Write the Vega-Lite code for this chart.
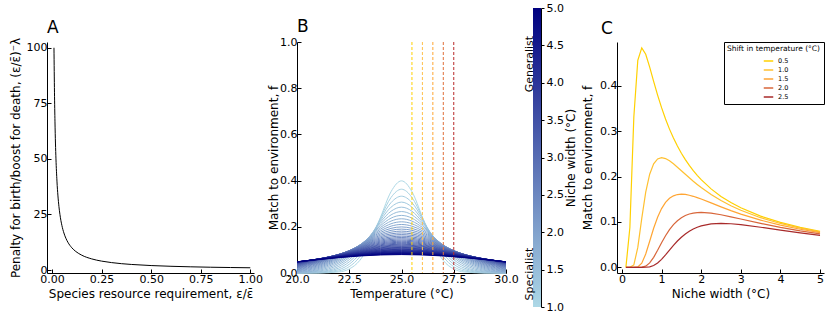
{
  "$schema": "https://vega.github.io/schema/vega-lite/v6.json",
  "padding": {"left": 9, "top": 2, "right": 0, "bottom": 0},
  "spacing": 4,
  "datasets": {
    "pa": [
      {"x": 0.01, "y": 100}, {"x": 0.0125, "y": 80}, {"x": 0.015, "y": 66.667}, {"x": 0.0175, "y": 57.143},
      {"x": 0.02, "y": 50}, {"x": 0.025, "y": 40}, {"x": 0.03, "y": 33.333}, {"x": 0.035, "y": 28.571},
      {"x": 0.04, "y": 25}, {"x": 0.05, "y": 20}, {"x": 0.06, "y": 16.667}, {"x": 0.07, "y": 14.286},
      {"x": 0.08, "y": 12.5}, {"x": 0.1, "y": 10}, {"x": 0.12, "y": 8.333}, {"x": 0.15, "y": 6.667},
      {"x": 0.2, "y": 5}, {"x": 0.25, "y": 4}, {"x": 0.3, "y": 3.333}, {"x": 0.4, "y": 2.5},
      {"x": 0.5, "y": 2}, {"x": 0.6, "y": 1.667}, {"x": 0.7, "y": 1.429}, {"x": 0.8, "y": 1.25},
      {"x": 0.9, "y": 1.111}, {"x": 1.0, "y": 1}
    ],
    "pb": [
      {"s": 1.0, "T": [20,21,22,22.5,23,23.5,24,24.5,25,25.5,26,26.5,27,27.5,28,29,30], "f": [0,0.0001,0.0044,0.0175,0.054,0.1295,0.242,0.3521,0.3989,0.3521,0.242,0.1295,0.054,0.0175,0.0044,0.0001,0]},
      {"s": 1.1, "T": [20,21,22,22.5,23,23.5,24,24.5,25,25.5,26,26.5,27,27.5,28,29,30], "f": [0,0.0005,0.0088,0.0274,0.0695,0.1431,0.2399,0.3271,0.3627,0.3271,0.2399,0.1431,0.0695,0.0274,0.0088,0.0005,0]},
      {"s": 1.2, "T": [20,21,22,22.5,23,23.5,24,24.5,25,25.5,26,26.5,27,27.5,28,29,30], "f": [0.0001,0.0013,0.0146,0.038,0.0829,0.1522,0.2349,0.3048,0.3325,0.3048,0.2349,0.1522,0.0829,0.038,0.0146,0.0013,0.0001]},
      {"s": 1.3, "T": [20,21,22,22.5,23,23.5,24,24.5,25,25.5,26,26.5,27,27.5,28,29,30], "f": [0.0002,0.0027,0.0214,0.0483,0.094,0.1577,0.2283,0.285,0.3069,0.285,0.2283,0.1577,0.094,0.0483,0.0214,0.0027,0.0002]},
      {"s": 1.4, "T": [20,21,22,22.5,23,23.5,24,24.5,25,25.5,26,26.5,27,27.5,28,29,30], "f": [0.0005,0.0048,0.0287,0.0579,0.1027,0.1605,0.2208,0.2674,0.285,0.2674,0.2208,0.1605,0.1027,0.0579,0.0287,0.0048,0.0005]},
      {"s": 1.5, "T": [20,21,22,22.5,23,23.5,24,24.5,25,25.5,26,26.5,27,27.5,28,29,30], "f": [0.001,0.0076,0.036,0.0663,0.1093,0.1613,0.213,0.2516,0.266,0.2516,0.213,0.1613,0.1093,0.0663,0.036,0.0076,0.001]},
      {"s": 1.6, "T": [20,21,22,22.5,23,23.5,24,24.5,25,25.5,26,26.5,27,27.5,28,29,30], "f": [0.0019,0.011,0.043,0.0736,0.1142,0.1607,0.2051,0.2375,0.2493,0.2375,0.2051,0.1607,0.1142,0.0736,0.043,0.011,0.0019]},
      {"s": 1.7, "T": [20,21,22,22.5,23,23.5,24,24.5,25,25.5,26,26.5,27,27.5,28,29,30], "f": [0.0031,0.0147,0.0495,0.0796,0.1175,0.159,0.1974,0.2247,0.2347,0.2247,0.1974,0.159,0.1175,0.0796,0.0495,0.0147,0.0031]},
      {"s": 1.8, "T": [20,21,22,22.5,23,23.5,24,24.5,25,25.5,26,26.5,27,27.5,28,29,30], "f": [0.0047,0.0188,0.0553,0.0845,0.1196,0.1566,0.1899,0.2132,0.2216,0.2132,0.1899,0.1566,0.1196,0.0845,0.0553,0.0188,0.0047]},
      {"s": 1.9, "T": [20,21,22,22.5,23,23.5,24,24.5,25,25.5,26,26.5,27,27.5,28,29,30], "f": [0.0066,0.0229,0.0604,0.0884,0.1207,0.1538,0.1828,0.2028,0.21,0.2028,0.1828,0.1538,0.1207,0.0884,0.0604,0.0229,0.0066]},
      {"s": 2.0, "T": [20,21,22,22.5,23,23.5,24,24.5,25,25.5,26,26.5,27,27.5,28,29,30], "f": [0.0088,0.027,0.0648,0.0913,0.121,0.1506,0.176,0.1933,0.1995,0.1933,0.176,0.1506,0.121,0.0913,0.0648,0.027,0.0088]},
      {"s": 2.1, "T": [20,21,22,22.5,23,23.5,24,24.5,25,25.5,26,26.5,27,27.5,28,29,30], "f": [0.0112,0.031,0.0685,0.0935,0.1207,0.1472,0.1696,0.1847,0.19,0.1847,0.1696,0.1472,0.1207,0.0935,0.0685,0.031,0.0112]},
      {"s": 2.2, "T": [20,21,22,22.5,23,23.5,24,24.5,25,25.5,26,26.5,27,27.5,28,29,30], "f": [0.0137,0.0347,0.0716,0.0951,0.12,0.1437,0.1635,0.1767,0.1813,0.1767,0.1635,0.1437,0.12,0.0951,0.0716,0.0347,0.0137]},
      {"s": 2.3, "T": [20,21,22,22.5,23,23.5,24,24.5,25,25.5,26,26.5,27,27.5,28,29,30], "f": [0.0163,0.0382,0.0741,0.0961,0.1188,0.1402,0.1578,0.1694,0.1735,0.1694,0.1578,0.1402,0.1188,0.0961,0.0741,0.0382,0.0163]},
      {"s": 2.4, "T": [20,21,22,22.5,23,23.5,24,24.5,25,25.5,26,26.5,27,27.5,28,29,30], "f": [0.019,0.0415,0.0761,0.0966,0.1175,0.1367,0.1524,0.1627,0.1662,0.1627,0.1524,0.1367,0.1175,0.0966,0.0761,0.0415,0.019]},
      {"s": 2.5, "T": [20,21,22,23,24,25,26,27,28,29,30], "f": [0.0216,0.0444,0.0777,0.1159,0.1473,0.1596,0.1473,0.1159,0.0777,0.0444,0.0216]},
      {"s": 2.6, "T": [20,21,22,23,24,25,26,27,28,29,30], "f": [0.0242,0.047,0.0789,0.1141,0.1425,0.1534,0.1425,0.1141,0.0789,0.047,0.0242]},
      {"s": 2.7, "T": [20,21,22,23,24,25,26,27,28,29,30], "f": [0.0266,0.0493,0.0797,0.1123,0.138,0.1478,0.138,0.1123,0.0797,0.0493,0.0266]},
      {"s": 2.8, "T": [20,21,22,23,24,25,26,27,28,29,30], "f": [0.0289,0.0514,0.0803,0.1104,0.1337,0.1425,0.1337,0.1104,0.0803,0.0514,0.0289]},
      {"s": 2.9, "T": [20,21,22,23,24,25,26,27,28,29,30], "f": [0.0311,0.0531,0.0806,0.1085,0.1296,0.1376,0.1296,0.1085,0.0806,0.0531,0.0311]},
      {"s": 3.0, "T": [20,21,22,23,24,25,26,27,28,29,30], "f": [0.0332,0.0547,0.0807,0.1065,0.1258,0.133,0.1258,0.1065,0.0807,0.0547,0.0332]},
      {"s": 3.1, "T": [20,21,22,23,24,25,26,27,28,29,30], "f": [0.0351,0.056,0.0806,0.1045,0.1222,0.1287,0.1222,0.1045,0.0806,0.056,0.0351]},
      {"s": 3.2, "T": [20,21,22,23,24,25,26,27,28,29,30], "f": [0.0368,0.0571,0.0803,0.1026,0.1187,0.1247,0.1187,0.1026,0.0803,0.0571,0.0368]},
      {"s": 3.3, "T": [20,21,22,23,24,25,26,27,28,29,30], "f": [0.0384,0.058,0.08,0.1006,0.1155,0.1209,0.1155,0.1006,0.08,0.058,0.0384]},
      {"s": 3.4, "T": [20,21,22,23,24,25,26,27,28,29,30], "f": [0.0398,0.0587,0.0795,0.0987,0.1124,0.1173,0.1124,0.0987,0.0795,0.0587,0.0398]},
      {"s": 3.5, "T": [20,21,22,23,24,25,26,27,28,29,30], "f": [0.0411,0.0593,0.0789,0.0968,0.1094,0.114,0.1094,0.0968,0.0789,0.0593,0.0411]},
      {"s": 3.6, "T": [20,21,22,23,24,25,26,27,28,29,30], "f": [0.0422,0.0598,0.0783,0.095,0.1066,0.1108,0.1066,0.095,0.0783,0.0598,0.0422]},
      {"s": 3.7, "T": [20,21,22,23,24,25,26,27,28,29,30], "f": [0.0433,0.0601,0.0776,0.0932,0.104,0.1078,0.104,0.0932,0.0776,0.0601,0.0433]},
      {"s": 3.8, "T": [20,21,22,23,24,25,26,27,28,29,30], "f": [0.0442,0.0603,0.0769,0.0914,0.1014,0.105,0.1014,0.0914,0.0769,0.0603,0.0442]},
      {"s": 3.9, "T": [20,21,22,23,24,25,26,27,28,29,30], "f": [0.045,0.0605,0.0761,0.0897,0.099,0.1023,0.099,0.0897,0.0761,0.0605,0.045]},
      {"s": 4.0, "T": [20,21,22,23,24,25,26,27,28,29,30], "f": [0.0457,0.0605,0.0753,0.088,0.0967,0.0997,0.0967,0.088,0.0753,0.0605,0.0457]},
      {"s": 4.1, "T": [20,21,22,23,24,25,26,27,28,29,30], "f": [0.0463,0.0605,0.0745,0.0864,0.0945,0.0973,0.0945,0.0864,0.0745,0.0605,0.0463]},
      {"s": 4.2, "T": [20,21,22,23,24,25,26,27,28,29,30], "f": [0.0468,0.0604,0.0736,0.0848,0.0923,0.095,0.0923,0.0848,0.0736,0.0604,0.0468]},
      {"s": 4.3, "T": [20,21,22,23,24,25,26,27,28,29,30], "f": [0.0472,0.0602,0.0727,0.0833,0.0903,0.0928,0.0903,0.0833,0.0727,0.0602,0.0472]},
      {"s": 4.4, "T": [20,21,22,23,24,25,26,27,28,29,30], "f": [0.0475,0.06,0.0719,0.0818,0.0884,0.0907,0.0884,0.0818,0.0719,0.06,0.0475]},
      {"s": 4.5, "T": [20,21,22,23,24,25,26,27,28,29,30], "f": [0.0478,0.0597,0.071,0.0803,0.0865,0.0887,0.0865,0.0803,0.071,0.0597,0.0478]},
      {"s": 4.6, "T": [20,21,22,23,24,25,26,27,28,29,30], "f": [0.048,0.0594,0.0701,0.0789,0.0847,0.0867,0.0847,0.0789,0.0701,0.0594,0.048]},
      {"s": 4.7, "T": [20,21,22,23,24,25,26,27,28,29,30], "f": [0.0482,0.0591,0.0692,0.0775,0.083,0.0849,0.083,0.0775,0.0692,0.0591,0.0482]},
      {"s": 4.8, "T": [20,21,22,23,24,25,26,27,28,29,30], "f": [0.0483,0.0587,0.0684,0.0762,0.0813,0.0831,0.0813,0.0762,0.0684,0.0587,0.0483]},
      {"s": 4.9, "T": [20,21,22,23,24,25,26,27,28,29,30], "f": [0.0484,0.0584,0.0675,0.0749,0.0797,0.0814,0.0797,0.0749,0.0675,0.0584,0.0484]},
      {"s": 5.0, "T": [20,21,22,23,24,25,26,27,28,29,30], "f": [0.0484,0.0579,0.0667,0.0737,0.0782,0.0798,0.0782,0.0737,0.0667,0.0579,0.0484]}
    ],
    "shifts": [
      {"T": 25.5, "shift": "0.5"}, {"T": 26.0, "shift": "1.0"}, {"T": 26.5, "shift": "1.5"},
      {"T": 27.0, "shift": "2.0"}, {"T": 27.5, "shift": "2.5"}
    ],
    "pc": [
      {"shift": "0.5", "w": [0.1,0.2,0.3,0.4,0.5,0.6,0.7,0.8,0.9,1.0,1.1,1.2,1.3,1.4,1.5,1.6,1.7,1.8,1.9,2.0,2.25,2.5,2.75,3.0,3.5,4.0,4.5,5.0], "f": [0,0.0877,0.3316,0.4566,0.4839,0.4699,0.4416,0.4102,0.3799,0.3521,0.3271,0.3048,0.285,0.2674,0.2516,0.2375,0.2247,0.2132,0.2028,0.1933,0.173,0.1564,0.1427,0.1312,0.1128,0.099,0.0881,0.0794]},
      {"shift": "1.0", "w": [0.1,0.2,0.3,0.4,0.5,0.6,0.7,0.8,0.9,1.0,1.1,1.2,1.3,1.4,1.5,1.6,1.7,1.8,1.9,2.0,2.25,2.5,2.75,3.0,3.5,4.0,4.5,5.0], "f": [0,0,0.0051,0.0438,0.108,0.1658,0.2054,0.2283,0.2391,0.242,0.2399,0.2349,0.2283,0.2208,0.213,0.2051,0.1974,0.1899,0.1828,0.176,0.1606,0.1473,0.1358,0.1258,0.1094,0.0967,0.0865,0.0782]},
      {"shift": "1.5", "w": [0.1,0.2,0.3,0.4,0.5,0.6,0.7,0.8,0.9,1.0,1.1,1.2,1.3,1.4,1.5,1.6,1.7,1.8,1.9,2.0,2.25,2.5,2.75,3.0,3.5,4.0,4.5,5.0], "f": [0,0,0,0.0009,0.0089,0.0292,0.0574,0.086,0.1105,0.1295,0.1431,0.1522,0.1577,0.1605,0.1613,0.1607,0.159,0.1566,0.1538,0.1506,0.142,0.1333,0.125,0.1174,0.104,0.093,0.0839,0.0763]},
      {"shift": "2.0", "w": [0.1,0.2,0.3,0.4,0.5,0.6,0.7,0.8,0.9,1.0,1.1,1.2,1.3,1.4,1.5,1.6,1.7,1.8,1.9,2.0,2.25,2.5,2.75,3.0,3.5,4.0,4.5,5.0], "f": [0,0,0,0,0.0003,0.0026,0.0096,0.0219,0.0375,0.054,0.0695,0.0829,0.094,0.1027,0.1093,0.1142,0.1175,0.1196,0.1207,0.121,0.1194,0.1159,0.1114,0.1065,0.0968,0.088,0.0803,0.0737]},
      {"shift": "2.5", "w": [0.1,0.2,0.3,0.4,0.5,0.6,0.7,0.8,0.9,1.0,1.1,1.2,1.3,1.4,1.5,1.6,1.7,1.8,1.9,2.0,2.25,2.5,2.75,3.0,3.5,4.0,4.5,5.0], "f": [0,0,0,0,0,0.0001,0.001,0.0038,0.0094,0.0175,0.0274,0.038,0.0483,0.0579,0.0663,0.0736,0.0796,0.0845,0.0884,0.0913,0.0956,0.0968,0.096,0.094,0.0883,0.082,0.076,0.0704]}
    ]
  },
  "hconcat": [
    {
      "width": 207,
      "height": 231,
      "title": {"text": "A", "offset": 0},
      "data": {"name": "pa"},
      "mark": {"type": "line", "color": "black", "strokeWidth": 1, "interpolate": "monotone"},
      "encoding": {
        "x": {"field": "x", "type": "quantitative",
              "scale": {"domain": [-0.0252, 1.0187], "nice": false, "zero": false},
              "axis": {"values": [0, 0.25, 0.5, 0.75, 1], "format": ".2f", "title": "Species resource requirement, ε/ε̄"}},
        "y": {"field": "y", "type": "quantitative",
              "scale": {"domain": [-1.35, 102.6], "nice": false, "zero": false},
              "axis": {"values": [0, 25, 50, 75, 100], "format": "d", "title": "Penalty for birth/boost for death, (ε/ε̄)⁻λ"}}
      }
    },
    {
      "width": 209,
      "height": 231,
      "title": {"text": "B", "offset": 0},
      "layer": [
        {
          "data": {"name": "pb"},
          "transform": [{"flatten": ["T", "f"]}],
          "mark": {"type": "line", "strokeWidth": 1, "interpolate": "monotone"},
          "encoding": {
            "x": {"field": "T", "type": "quantitative",
                  "scale": {"domain": [20, 30], "nice": false, "zero": false},
                  "axis": {"values": [20, 22.5, 25, 27.5, 30], "format": ".1f", "title": "Temperature (°C)"}},
            "y": {"field": "f", "type": "quantitative",
                  "scale": {"domain": [0, 1], "nice": false, "zero": false},
                  "axis": {"values": [0, 0.2, 0.4, 0.6, 0.8, 1.0], "format": ".1f", "title": "Match to environment, f", "titlePadding": -0.5}},
            "color": {"field": "s", "type": "quantitative",
                      "scale": {"domain": [1, 5], "range": ["lightblue", "navy"], "interpolate": "rgb"},
                      "legend": null}
          }
        },
        {
          "data": {"name": "shifts"},
          "mark": {"type": "rule", "strokeWidth": 1, "strokeDash": [3, 2]},
          "encoding": {
            "x": {"field": "T", "type": "quantitative"},
            "stroke": {"field": "shift", "type": "nominal",
                       "scale": {"domain": ["0.5", "1.0", "1.5", "2.0", "2.5"], "range": ["#FFD000", "#FFC04A", "#FFA533", "#E0703A", "#B82828"]},
                       "legend": null}
          }
        }
      ]
    },
    {
      "width": 8,
      "height": 231,
      "layer": [
        {
          "data": {"values": [{"lo": 1, "hi": 5}]},
          "mark": {"type": "rect", "stroke": null, "clip": false,
                   "fill": {"gradient": "linear", "x1": 0, "y1": 1, "x2": 0, "y2": 0,
                            "stops": [{"offset": 0, "color": "lightblue"}, {"offset": 1, "color": "navy"}]}},
          "encoding": {
            "y": {"field": "lo", "type": "quantitative",
                  "scale": {"domain": [1, 5], "range": [265, -34], "nice": false, "zero": false},
                  "axis": {"orient": "right", "values": [1, 1.5, 2, 2.5, 3, 3.5, 4, 4.5, 5], "tickCount": 12, "format": ".1f",
                           "tickSize": 3, "labelPadding": 2, "title": "Niche width (°C)",
                           "titleAngle": 270, "titleBaseline": "top", "titlePadding": 2}},
            "y2": {"field": "hi"}
          }
        },
        {
          "data": {"values": [{}]},
          "mark": {"type": "text", "angle": 270, "baseline": "alphabetic", "align": "center", "fontSize": 11, "color": "black", "clip": false},
          "encoding": {"y": {"datum": 4.25, "type": "quantitative"}, "x": {"value": 0}, "text": {"value": "Generalist"}}
        },
        {
          "data": {"values": [{}]},
          "mark": {"type": "text", "angle": 270, "baseline": "alphabetic", "align": "center", "fontSize": 11, "color": "black", "clip": false},
          "encoding": {"y": {"datum": 1.44, "type": "quantitative"}, "x": {"value": 0}, "text": {"value": "Specialist"}}
        }
      ]
    },
    {
      "width": 207,
      "height": 231,
      "title": {"text": "C", "dx": -16, "offset": 4},
      "data": {"name": "pc"},
      "transform": [{"flatten": ["w", "f"]}],
      "mark": {"type": "line", "strokeWidth": 1.2, "interpolate": "linear"},
      "encoding": {
        "x": {"field": "w", "type": "quantitative",
              "scale": {"domain": [-0.125, 5.1], "nice": false, "zero": false},
              "axis": {"values": [0, 1, 2, 3, 4, 5], "format": "d", "title": "Niche width (°C)"}},
        "y": {"field": "f", "type": "quantitative",
              "scale": {"domain": [-0.0126, 0.497], "nice": false, "zero": false},
              "axis": {"values": [0, 0.1, 0.2, 0.3, 0.4], "format": ".1f", "title": "Match to environment, f", "titlePadding": 5}},
        "color": {"field": "shift", "type": "nominal",
                  "scale": {"domain": ["0.5", "1.0", "1.5", "2.0", "2.5"], "range": ["#FFD000", "#FFC030", "#FFA533", "#D8663A", "#A82A2A"]},
                  "legend": {"title": "Shift in temperature (°C)"}}
      }
    }
  ],
  "resolve": {"scale": {"x": "independent", "y": "independent", "color": "independent", "stroke": "independent"}},
  "config": {
    "font": "DejaVu Sans",
    "view": {"stroke": null},
    "axis": {"grid": false, "domainColor": "#000", "domainWidth": 1, "tickColor": "#000", "tickSize": -4,
             "labelPadding": 4, "labelColor": "#000", "labelFontSize": 11, "titleColor": "#000",
             "labelFlush": false, "labelOverlap": false, "labelBound": false,
             "titleFontSize": 12, "titleFontWeight": "normal", "titlePadding": 4},
    "title": {"anchor": "start", "frame": "group", "fontSize": 17, "fontWeight": "normal", "baseline": "alphabetic", "offset": 12, "color": "#000"},
    "legend": {"orient": "top-right", "offset": 0, "padding": 3, "strokeColor": "#000", "fillColor": "white",
               "titleFontSize": 7.5, "titleFontWeight": "normal", "titleColor": "#000", "titlePadding": 3,
               "labelFontSize": 6.5, "labelColor": "#000", "symbolType": "stroke", "symbolSize": 90,
               "symbolStrokeWidth": 1.5, "rowPadding": 0, "symbolOffset": 36, "cornerRadius": 0}
  }
}
